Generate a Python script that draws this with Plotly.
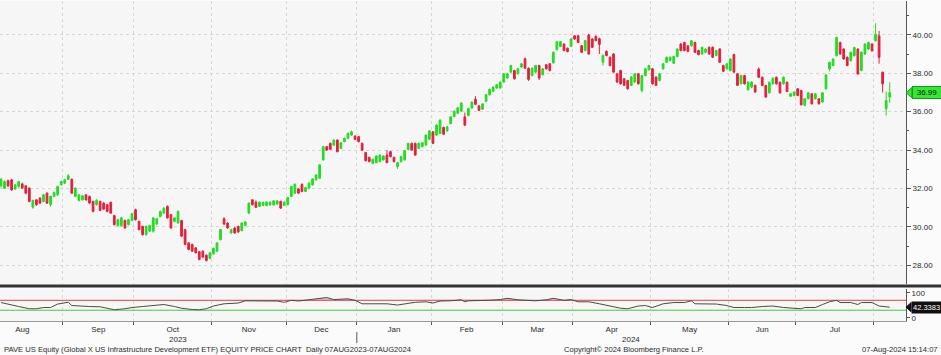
import numpy as np
import pandas as pd
import plotly.graph_objects as go

# ---------------- data ----------------
open_ = [32.14,32.02,32.41,32.45,31.97,32.10,32.24,32.14,32.02,31.03,31.41,31.50,31.33,31.76,31.16,31.59,31.67,32.19,32.28,32.48,
         32.48,31.59,31.38,31.41,31.67,31.59,31.33,31.16,31.33,31.24,31.16,31.28,30.59,30.07,30.07,30.34,30.12,30.34,30.90,30.29,
         30.03,29.60,29.78,29.78,30.15,30.55,30.72,31.07,30.64,30.29,30.21,30.33,29.86,29.17,29.09,28.91,28.71,28.74,28.53,28.36,
         28.60,28.74,29.34,30.43,30.20,29.69,29.95,30.03,29.81,30.08,30.72,31.41,31.29,31.07,31.12,31.12,31.15,31.15,31.19,31.33,
         31.12,31.16,31.59,31.76,31.98,32.22,31.85,32.02,32.19,32.45,32.54,33.49,34.18,34.35,34.26,34.52,34.09,34.44,34.61,34.78,
         34.73,34.70,34.35,33.87,33.62,33.31,33.35,33.40,33.49,33.74,33.92,33.62,33.14,33.40,33.49,34.04,34.35,34.35,34.09,34.18,
         34.26,34.56,34.95,34.78,34.87,35.18,35.00,35.38,35.75,35.92,36.03,35.73,35.80,36.19,36.65,36.30,36.13,36.54,36.88,37.06,
         37.23,37.23,37.54,37.75,38.06,38.14,37.97,38.32,38.75,38.26,37.88,38.06,38.40,37.92,38.44,38.49,38.54,39.23,39.40,39.52,
         39.30,39.40,39.95,39.95,39.43,39.18,39.99,39.78,39.92,39.80,38.57,39.14,38.83,39.00,37.97,38.14,37.71,37.62,37.37,37.54,
         37.97,37.10,37.88,38.18,38.23,37.80,37.62,38.23,38.57,38.66,38.52,38.87,39.52,39.60,39.43,39.43,39.60,39.18,39.00,39.09,
         39.35,39.35,38.92,39.26,38.40,38.23,38.14,38.97,37.97,37.45,37.88,37.14,37.28,37.37,38.22,37.79,37.36,36.98,37.45,37.79,
         37.53,37.45,37.53,36.80,36.84,37.19,37.10,36.33,36.67,36.93,36.67,36.67,36.50,37.19,38.22,38.40,38.91,39.60,39.26,38.83,
         38.65,38.91,39.26,38.14,39.00,39.26,39.52,39.69,39.95,38.05,36.15,36.76]
close = [32.48,32.36,32.14,31.93,32.19,32.36,32.02,31.76,31.33,31.38,31.16,31.24,31.67,31.24,31.59,31.79,32.10,32.36,32.45,32.66,
         31.76,32.02,31.67,31.62,31.41,31.24,30.81,31.38,30.86,30.93,30.81,30.72,30.12,30.38,30.47,29.95,30.38,30.69,30.38,29.86,
         29.60,30.03,30.07,30.47,30.43,30.81,30.98,30.47,29.95,30.47,30.81,29.52,29.09,28.83,28.74,28.66,28.31,28.43,28.26,28.66,
         28.88,29.17,29.86,30.15,29.95,29.86,29.69,29.74,30.20,30.26,31.24,31.16,31.02,31.29,31.28,31.29,31.29,31.36,31.36,30.98,
         31.29,31.53,32.10,32.22,31.76,31.85,32.05,32.28,32.50,32.71,33.23,34.18,34.00,34.04,34.52,33.92,34.38,34.61,34.87,34.95,
         34.56,34.44,34.00,33.45,33.40,33.52,33.69,33.74,33.69,33.35,33.66,33.40,33.35,33.66,33.97,34.35,34.00,33.74,34.35,34.38,
         34.78,35.00,34.35,35.30,35.56,34.83,35.21,35.73,36.02,36.20,36.45,35.30,36.16,36.50,36.38,36.07,36.40,36.88,37.16,37.28,
         37.40,37.54,37.97,37.97,38.40,37.71,38.23,38.49,38.26,37.68,38.26,38.40,37.75,38.23,38.23,38.14,39.09,39.64,39.64,39.18,
         39.13,39.78,39.78,39.60,39.09,39.70,39.00,39.35,39.70,39.50,38.92,38.92,38.40,38.06,37.54,37.45,37.37,37.19,37.80,37.97,
         37.45,37.88,38.23,38.40,37.45,37.37,37.97,38.49,38.83,38.83,38.87,39.26,39.18,39.18,39.14,39.69,39.09,38.97,39.35,39.26,
         39.00,38.83,39.18,38.57,38.10,38.49,38.74,38.06,37.37,37.88,37.45,37.54,37.54,37.02,37.79,37.36,36.76,37.53,37.74,37.45,
         36.98,37.79,37.05,36.93,37.02,36.84,36.36,36.67,36.98,36.41,36.93,36.41,36.98,37.91,38.57,38.74,39.86,39.00,38.74,38.40,
         39.09,39.34,37.96,39.09,39.52,39.60,39.17,40.03,38.83,37.45,36.58,36.99]
high = [32.55,32.42,32.46,32.50,32.24,32.40,32.30,32.18,32.05,31.42,31.45,31.55,31.72,31.80,31.63,31.85,32.15,32.40,32.50,32.75,
        32.52,32.06,31.70,31.66,31.70,31.63,31.37,31.45,31.37,31.28,31.20,31.32,30.63,30.42,30.52,30.38,30.42,30.73,30.95,30.33,
        30.07,30.07,30.11,30.52,30.47,30.85,31.03,31.12,30.68,30.52,30.86,30.37,29.90,29.21,29.13,28.95,28.75,28.78,28.57,28.70,
        28.92,29.21,29.90,30.50,30.24,29.90,29.99,30.07,30.24,30.30,31.28,31.45,31.38,31.33,31.32,31.33,31.33,31.40,31.40,31.37,
        31.33,31.57,32.14,32.27,32.02,32.26,32.09,32.32,32.54,32.75,33.27,34.22,34.22,34.39,34.56,34.56,34.42,34.65,34.91,35.02,
        34.77,34.74,34.39,33.91,33.66,33.56,33.73,33.78,33.73,34.00,33.96,33.66,33.39,33.70,34.01,34.39,34.39,34.39,34.39,34.42,
        34.82,35.04,34.99,35.34,35.60,35.22,35.25,35.77,36.06,36.24,36.49,35.95,36.20,36.54,36.80,36.34,36.44,36.92,37.20,37.32,
        37.44,37.58,38.01,38.01,38.44,38.18,38.27,38.53,38.82,38.30,38.30,38.44,38.44,38.27,38.48,38.53,39.13,39.68,39.68,39.56,
        39.34,39.82,39.99,39.99,39.47,39.74,40.05,39.82,39.96,39.85,38.98,39.18,38.87,39.04,38.01,38.18,37.75,37.66,37.84,38.01,
        38.01,37.92,38.27,38.44,38.27,37.84,38.01,38.53,38.87,38.87,38.91,39.30,39.56,39.64,39.47,39.73,39.64,39.22,39.39,39.30,
        39.39,39.39,39.22,39.30,38.44,38.53,38.78,39.01,38.01,37.92,37.92,37.58,37.58,37.41,38.30,37.83,37.40,37.57,37.78,37.83,
        37.57,37.83,37.57,36.97,37.06,37.23,37.14,36.71,37.02,36.97,36.97,36.71,37.02,37.95,38.61,38.78,39.90,39.64,39.30,38.87,
        39.13,39.38,39.30,39.13,39.56,39.64,39.56,40.60,40.20,38.09,37.05,37.53]
low = [32.05,31.98,32.08,31.88,31.93,32.05,31.98,31.70,31.28,30.95,31.10,31.20,31.28,31.20,31.05,31.55,31.62,32.15,32.24,32.44,
       31.72,31.55,31.33,31.37,31.37,31.20,30.76,31.12,30.82,30.88,30.76,30.68,30.08,30.02,30.03,29.90,30.08,30.30,30.33,29.82,
       29.55,29.55,29.74,29.70,30.10,30.50,30.68,30.43,29.90,30.24,30.16,29.47,29.04,28.78,28.70,28.62,28.27,28.39,28.20,28.32,
       28.56,28.70,29.30,30.10,29.90,29.64,29.64,29.70,29.77,30.04,30.68,31.12,30.98,31.03,31.08,31.08,31.11,31.11,31.15,30.94,
       31.08,31.12,31.55,31.72,31.72,31.81,31.81,31.98,32.15,32.41,32.50,33.45,33.96,34.00,34.22,33.88,34.05,34.40,34.57,34.74,
       34.52,34.40,33.96,33.41,33.36,33.27,33.31,33.36,33.45,33.31,33.62,33.36,33.02,33.36,33.45,34.00,33.96,33.70,34.05,34.14,
       34.22,34.52,34.31,34.74,34.83,34.79,34.96,35.34,35.71,35.88,35.99,35.25,35.76,36.15,36.34,36.03,36.09,36.50,36.84,37.02,
       37.19,37.19,37.50,37.71,38.02,37.67,37.93,38.28,38.22,37.60,37.84,38.02,37.65,37.88,38.19,38.10,38.50,39.19,39.36,39.14,
       39.09,39.36,39.74,39.56,39.05,39.14,38.96,39.31,39.66,39.00,38.40,38.88,38.36,38.02,37.50,37.41,37.33,37.15,37.33,37.50,
       37.41,37.00,37.84,38.14,37.41,37.33,37.58,38.19,38.53,38.62,38.48,38.83,39.14,39.14,39.10,39.39,39.05,38.93,38.96,39.05,
       38.96,38.79,38.88,38.53,38.06,38.19,38.10,38.02,37.33,37.41,37.41,37.10,37.22,36.98,37.75,37.32,36.72,36.94,37.41,37.41,
       36.94,37.41,37.01,36.76,36.80,36.80,36.32,36.29,36.63,36.37,36.63,36.37,36.46,37.15,38.10,38.36,38.87,38.96,38.70,38.36,
       38.61,38.87,37.92,38.10,38.96,39.22,39.13,39.65,38.50,37.00,35.80,36.46]

holidays = ["2023-09-04", "2023-11-23", "2023-12-25", "2024-01-01", "2024-01-15",
            "2024-02-19", "2024-03-29", "2024-05-27", "2024-06-19", "2024-07-04"]
first_day, last_day = "2023-08-08", "2024-08-07"

# RSI (14): trading-day index, value
rsi_idx = [0,3,5,8,10,12,14,16,18,19,20,22,25,28,30,32,35,37,40,43,46,49,51,54,56,58,60,63,67,69,72,75,78,80,82,84,
           87,90,92,94,98,100,102,105,109,112,115,117,120,122,124,127,130,131,132,135,138,141,143,146,148,151,154,156,
           159,161,163,166,169,172,175,177,180,182,184,187,190,193,195,196,199,202,205,207,210,212,215,218,221,224,226,
           227,230,232,234,236,237,240,242,243,246,248,250,251]
rsi_val = [61,53,45,36,36,41,41,55,59,62,49,47,45,44,38,32,36,41,45,49,53,45,38,33,32,36,47,56,59,68,67,68,67,62,70,67,
           72,79,81,73,76,70,56,56,56,51,59,62,64,59,67,68,72,64,68,68,70,73,78,72,70,68,72,78,
           70,73,64,64,56,47,38,36,47,49,41,56,61,61,68,56,56,55,49,41,41,41,45,47,41,39,36,
           41,41,53,64,70,61,61,53,61,61,47,44,42.3383]

month_names = ["Aug", "Sep", "Oct", "Nov", "Dec", "Jan", "Feb", "Mar", "Apr", "May", "Jun", "Jul"]
year_names = ["2023", "2024"]
footer_left = "PAVE US Equity (Global X US Infrastructure Development ETF) EQUITY PRICE CHART  Daily 07AUG2023-07AUG2024"
footer_mid = "Copyright\u00a9 2024 Bloomberg Finance L.P."
footer_right = "07-Aug-2024 15:14:07"

# ---------------- calendar helpers ----------------
cal = pd.bdate_range("2023-08-01", "2024-08-30", freq="C", holidays=holidays)
offset = int(np.where(cal == pd.Timestamp(first_day))[0][0])
cal_idx = np.arange(len(cal)) - offset
month_start = [0] + [i for i in range(1, len(cal)) if cal[i].month != cal[i - 1].month]
bounds = [cal_idx[i] - 0.5 for i in month_start]          # Aug23, Sep23, ..., Aug24
dates = pd.bdate_range(first_day, last_day, freq="C", holidays=holidays)
n = len(close)
x = list(range(n))

XR = [-0.28, 255.6]
grid_vals = [b for b in bounds if XR[0] < b < XR[1]]
label_pos = [(bounds[k] + bounds[k + 1]) / 2 for k in range(len(month_names))]
jan_b = bounds[5]
year_pos = [(XR[0] + jan_b) / 2, (jan_b + XR[1]) / 2]

GREEN = "#22dd22"
RED = "#e2203c"
FONT = "Liberation Sans"
TXT = "#2a2a2a"
D = 906 / 941

fig = go.Figure()
fig.add_trace(go.Candlestick(
    x=x, open=open_, high=high, low=low, close=close,
    increasing=dict(line=dict(color=GREEN, width=1), fillcolor=GREEN),
    decreasing=dict(line=dict(color=RED, width=1), fillcolor=RED),
    whiskerwidth=0, showlegend=False, xaxis="x", yaxis="y",
    text=[d.strftime("%Y-%m-%d") for d in dates], hoverinfo="text"))

# RSI panel
rsi_top = [max(v, 70) for v in rsi_val]
fig.add_trace(go.Scatter(x=[XR[0], XR[1]], y=[70, 70], mode="lines",
                         line=dict(color="#d94848", width=1), xaxis="x2", yaxis="y2",
                         showlegend=False, hoverinfo="skip"))
fig.add_trace(go.Scatter(x=[XR[0], XR[1]], y=[30, 30], mode="lines",
                         line=dict(color="#3fcf3f", width=1), xaxis="x2", yaxis="y2",
                         showlegend=False, hoverinfo="skip"))
fig.add_trace(go.Scatter(x=rsi_idx, y=[70] * len(rsi_idx), mode="lines", line=dict(width=0),
                         xaxis="x2", yaxis="y2", showlegend=False, hoverinfo="skip"))
fig.add_trace(go.Scatter(x=rsi_idx, y=rsi_top, mode="lines", line=dict(width=0),
                         fill="tonexty", fillcolor="rgba(230,90,90,0.35)",
                         xaxis="x2", yaxis="y2", showlegend=False, hoverinfo="skip"))
fig.add_trace(go.Scatter(x=rsi_idx, y=rsi_val, mode="lines", line=dict(color="#4a4a4a", width=1),
                         xaxis="x2", yaxis="y2", showlegend=False))
# invisible trace carrying the month-label axis
fig.add_trace(go.Scatter(x=label_pos, y=[50] * len(label_pos), mode="markers",
                         marker=dict(opacity=0), xaxis="x3", yaxis="y2",
                         showlegend=False, hoverinfo="skip"))

tickfont = dict(family=FONT, size=8, color=TXT)
footfont = dict(family=FONT, size=7.6, color=TXT)
grid = dict(showgrid=True, gridcolor="#d6d6d6", griddash="dot", gridwidth=1)

fig.update_layout(
    width=941, height=355, margin=dict(l=0, r=0, t=0, b=0),
    paper_bgcolor="#fbfbfb", plot_bgcolor="#f6f6f6",
    font=dict(family=FONT, size=8, color=TXT),
    xaxis=dict(domain=[0, D], range=XR, anchor="y", tickvals=grid_vals, showticklabels=False,
               ticks="", zeroline=False, showline=False, rangeslider=dict(visible=False), **grid),
    yaxis=dict(domain=[70 / 355, 1], range=[27.01, 41.76], side="right", anchor="x",
               dtick=2, tickformat=".2f", ticks="outside", ticklen=4, tickcolor="#555",
               showline=True, linecolor="#555", linewidth=1, tickfont=tickfont,
               minor=dict(dtick=1, ticks="outside", ticklen=2, tickcolor="#555", showgrid=False),
               zeroline=False, **grid),
    xaxis2=dict(domain=[0, D], range=XR, anchor="y2", tickvals=grid_vals, showticklabels=False,
                ticks="outside", ticklen=3, tickcolor="#555", showline=True, linecolor="#999",
                zeroline=False, **grid),
    yaxis2=dict(domain=[33 / 355, 65 / 355], range=[-14, 114], side="right", anchor="x2",
                tickvals=[0, 100], ticks="outside", ticklen=3, tickcolor="#555", showline=True,
                linecolor="#555", showgrid=False, zeroline=False, tickfont=tickfont),
    xaxis3=dict(domain=[0, D], range=XR, anchor="y2", overlaying="x2", side="bottom",
                tickvals=label_pos, ticktext=month_names, ticks="", showgrid=False,
                showline=False, zeroline=False, tickfont=tickfont, ticklabelstandoff=2),
    showlegend=False,
)

shapes = [
    dict(type="line", xref="paper", yref="paper", x0=0, x1=1, y0=68.5 / 355, y1=68.5 / 355,
         line=dict(color="#333333", width=3)),
    dict(type="line", xref="x2", yref="paper", x0=jan_b, x1=jan_b, y0=11 / 355, y1=22 / 355,
         line=dict(color="#555555", width=1)),
    dict(type="path", xref="paper", yref="y",
         path=f"M {906/941} {close[-1]} L {912/941} {close[-1]+0.27} L {912/941} {close[-1]-0.27} Z",
         fillcolor="#33e833", line=dict(color="#1a9a1a", width=1)),
    dict(type="path", xref="paper", yref="y2",
         path=f"M {906/941} {rsi_val[-1]} L {911/941} {rsi_val[-1]+18} L {911/941} {rsi_val[-1]-18} Z",
         fillcolor="#111111", line=dict(color="#111111", width=1)),
]
fig.update_layout(shapes=shapes)

ann = [
    dict(xref="paper", yref="y", x=911.5 / 941, y=close[-1], text=f"{close[-1]:.2f}", showarrow=False,
         xanchor="left", yanchor="middle", bgcolor="#33e833", bordercolor="#1a9a1a", borderwidth=1,
         borderpad=1, width=26, font=dict(family=FONT, size=8, color="#111")),
    dict(xref="paper", yref="y2", x=910.5 / 941, y=rsi_val[-1], text=f"{rsi_val[-1]:.4f}", showarrow=False,
         xanchor="left", yanchor="middle", bgcolor="#111111", borderpad=1,
         font=dict(family=FONT, size=7.5, color="#ffffff")),
    dict(xref="x2", yref="paper", x=year_pos[0], y=15 / 355, text=year_names[0], showarrow=False,
         xanchor="center", yanchor="middle", font=tickfont),
    dict(xref="x2", yref="paper", x=year_pos[1], y=15 / 355, text=year_names[1], showarrow=False,
         xanchor="center", yanchor="middle", font=tickfont),
    dict(xref="paper", yref="paper", x=2 / 941, y=5 / 355, text=footer_left, showarrow=False,
         xanchor="left", yanchor="middle", font=footfont),
    dict(xref="paper", yref="paper", x=634 / 941, y=5 / 355, text=footer_mid, showarrow=False,
         xanchor="center", yanchor="middle", font=footfont),
    dict(xref="paper", yref="paper", x=940 / 941, y=5 / 355, text=footer_right, showarrow=False,
         xanchor="right", yanchor="middle", font=footfont),
]
fig.update_layout(annotations=ann)

fig.write_html("out.html", config={"displayModeBar": False},
               post_script="document.body.style.margin='0px';document.body.style.overflow='hidden';")
